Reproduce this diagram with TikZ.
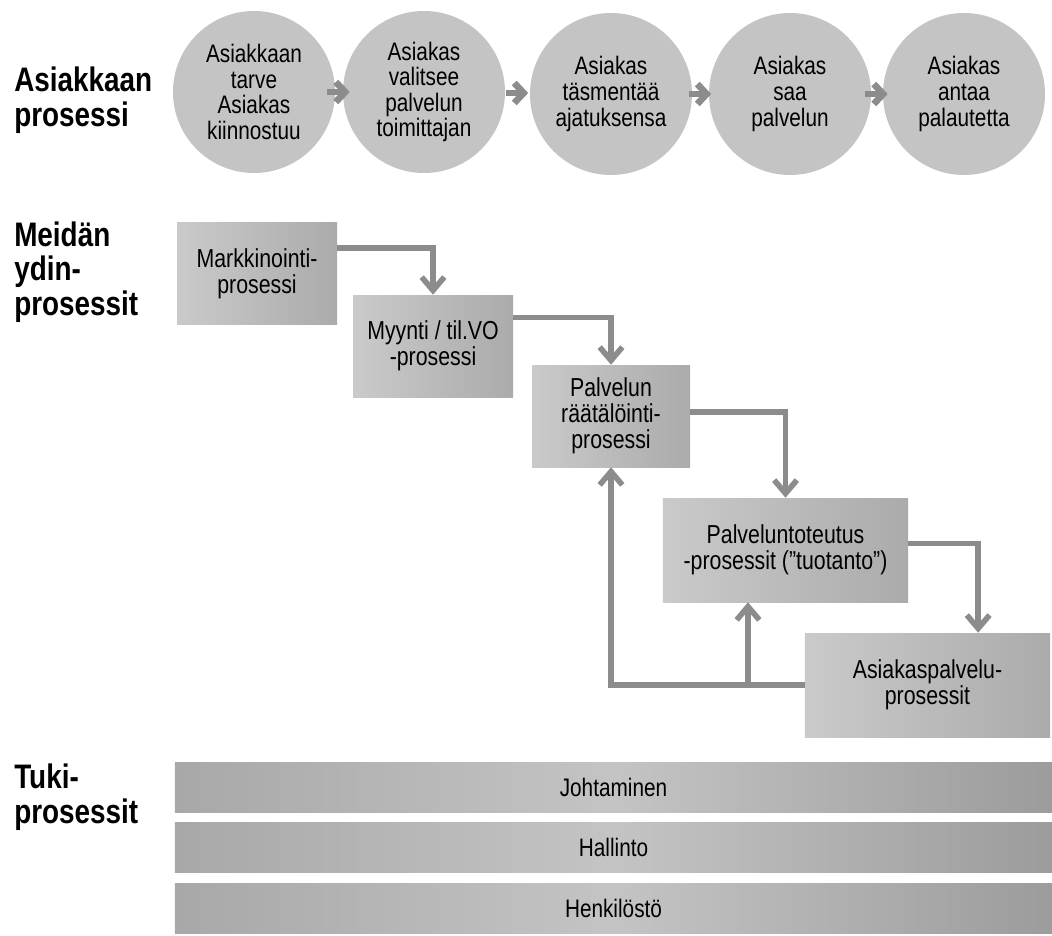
\documentclass[tikz,border=0pt]{standalone}
\usepackage{fontspec}
\setmainfont{Liberation Sans}[FakeStretch=0.82]
\usetikzlibrary{arrows.meta,calc}
\definecolor{circfill}{HTML}{C4C4C4}
\definecolor{arrgray}{HTML}{8C8C8C}
\definecolor{boxl}{HTML}{CACACA}
\definecolor{boxr}{HTML}{ABABAB}
\definecolor{barl}{HTML}{A8A8A8}
\definecolor{barm}{HTML}{C4C4C4}
\definecolor{barr}{HTML}{9C9C9C}
\begin{document}
\begin{tikzpicture}[x=0.75pt,y=-0.75pt,
  headlabel/.style={anchor=west,align=left,inner sep=0pt,font=\fontsize{25.5}{26}\selectfont\bfseries},
  circ/.style={circle,fill=circfill,minimum size=121.5pt,inner sep=0pt,align=center,font=\fontsize{19}{19.2}\selectfont},
  procbox/.style={rectangle,left color=boxl,right color=boxr,inner sep=0pt,align=center,font=\fontsize{19.5}{19.6}\selectfont},
  barbox/.style={rectangle,left color=barl,right color=barr,middle color=barm,inner sep=0pt,minimum width=658pt,minimum height=37.5pt,font=\fontsize{19}{19}\selectfont},
  chev/.style={draw=arrgray,line width=5pt,-{Straight Barb[length=7pt,width=15pt]}},
  conn/.style={draw=arrgray,line width=4.2pt,-{Straight Barb[length=10pt,width=17pt]}}
]
\useasboundingbox (0,0) rectangle (1052,935);
\fill[white] (0,0) rectangle (1052,935);

% left labels
\node[headlabel] (lab1) at (14,100) {Asiakkaan\\prosessi};
\node[headlabel] (lab2) at (14,272) {Meidän\\ydin-\\prosessit};
\node[headlabel] (lab3) at (14,797) {Tuki-\\prosessit};

% customer process circles
\node[circ] (c1) at (254,92) {Asiakkaan\\tarve\\Asiakas\\kiinnostuu};
\node[circ] (c2) at (424,92) {Asiakas\\valitsee\\palvelun\\toimittajan};
\node[circ] (c3) at (611,94) {Asiakas\\täsmentää\\ajatuksensa};
\node[circ] (c4) at (790,94) {Asiakas\\saa\\palvelun};
\node[circ] (c5) at (964,94) {Asiakas\\antaa\\palautetta};

\foreach \a/\b in {c1/c2,c2/c3,c3/c4,c4/c5}{
  \coordinate (m\a\b) at ($(\a.east)!0.5!(\b.west)$);
  \draw[chev] ([xshift=-9pt]m\a\b) -- ([xshift=8pt]m\a\b);
}

% core processes
\node[procbox,minimum width=120pt,minimum height=77pt] (mark) at (257,273.5) {Markkinointi-\\prosessi};
\node[procbox,minimum width=120pt,minimum height=76.5pt] (myy) at (433,346) {Myynti / til.VO\\-prosessi};
\node[procbox,minimum width=118.5pt,minimum height=76.5pt] (palv) at (611,416) {Palvelun\\räätälöinti-\\prosessi};
\node[procbox,minimum width=184pt,minimum height=78pt] (tot) at (785.5,550) {Palveluntoteutus\\-prosessit (”tuotanto”)};
\node[procbox,minimum width=184pt,minimum height=78pt] (asp) at (927.5,685) {Asiakaspalvelu-\\prosessit};

\draw[conn] ([yshift=-19.5pt]mark.north east) -| (myy.north);
\draw[conn] ([yshift=-17pt]myy.north east) -| (palv.north);
\draw[conn] ([yshift=3pt]palv.east) -| (tot.north);
\coordinate (asptop) at ([xshift=38pt]asp.north);
\draw[conn] ([yshift=5pt]tot.east) -| (asptop);
\draw[conn] (asp.west) -| (palv.south);
\coordinate (br) at (748,685);
\draw[conn] (br) -- (br |- tot.south);

% support processes
\node[barbox] (joh) at (613.5,787) {Johtaminen};
\node[barbox] (hal) at (613.5,847.5) {Hallinto};
\node[barbox] (hen) at (613.5,908) {Henkilöstö};
\end{tikzpicture}
\end{document}
